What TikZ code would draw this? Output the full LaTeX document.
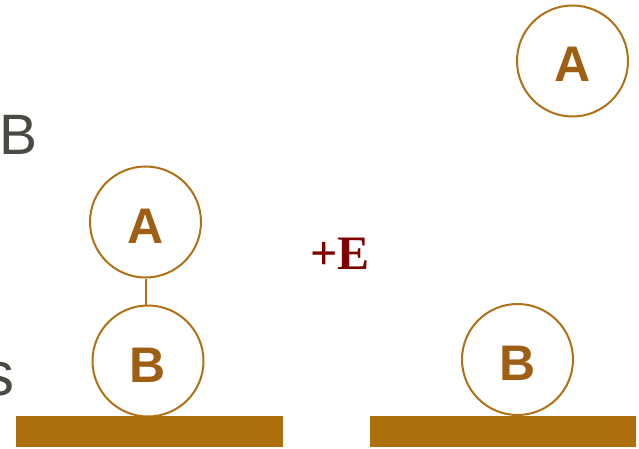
\documentclass[tikz,border=0pt]{standalone}
\usepackage{fontspec}
\setmainfont{Liberation Sans}
\newfontfamily\serifbold{Liberation Serif}
\definecolor{brownline}{RGB}{175,112,22}
\definecolor{brownbar}{RGB}{173,111,11}
\definecolor{brownletter}{RGB}{158,94,20}
\definecolor{graytext}{RGB}{74,74,68}
\definecolor{darkred}{RGB}{128,0,0}
\tikzset{
  ball/.style={circle, draw=brownline, line width=2pt, minimum size=111pt, inner sep=0pt,
    text height=42pt, text depth=0pt,
    text=brownletter, font=\fontsize{50}{50}\selectfont\bfseries},
  barbox/.style={rectangle, fill=brownbar, draw=none, inner sep=0pt},
  bond/.style={draw=brownline, line width=2pt},
  sidetext/.style={inner sep=0pt, text=graytext}
}
\begin{document}
\begin{tikzpicture}[x=1pt, y=-1pt]
\useasboundingbox (0,0) rectangle (639,449);
\node[sidetext, anchor=base west, font=\fontsize{57}{57}\selectfont] (lb) at (-1,155) {B};
\node[sidetext, anchor=base east, font=\fontsize{62}{62}\selectfont] (ls) at (15,395) {s};
\node[barbox, minimum width=267pt, minimum height=30.5pt] (bar1) at (149.5,431.25) {};
\node[barbox, minimum width=266pt, minimum height=30.5pt] (bar2) at (503,431.25) {};
\node[ball] (A1) at (145.5,222) {A};
\node[ball] (B1) at (148,361) {B};
\node[ball] (A2) at (572.5,61) {A};
\node[ball] (B2) at (517.5,359.5) {B};
\draw[bond] (A1.south) -- (A1.south |- B1.north);
\node[anchor=base, inner sep=0pt, text=darkred, font=\serifbold\fontsize{48}{48}\selectfont\bfseries] (E) at (340,269) {+E};
\end{tikzpicture}
\end{document}
